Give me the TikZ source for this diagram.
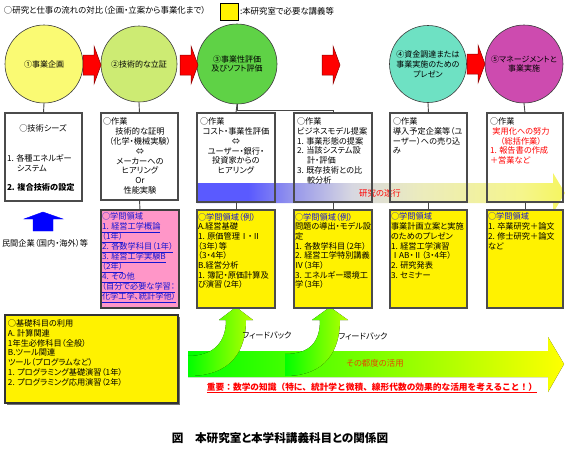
\documentclass[tikz,border=0pt]{standalone}
\usepackage{fontspec}
\setmainfont{Noto Sans CJK JP}[RawFeature=+palt,AutoFakeSlant=0.18]
\newfontfamily\widejp{Noto Sans CJK JP}[AutoFakeSlant=0.18]
\definecolor{circA}{RGB}{250,250,115}
\definecolor{circB}{RGB}{205,235,115}
\definecolor{circC}{RGB}{95,210,70}
\definecolor{circD}{RGB}{110,225,195}
\definecolor{circE}{RGB}{205,75,175}
\definecolor{circline}{RGB}{60,60,60}
\definecolor{boxline}{RGB}{75,75,75}
\definecolor{connline}{RGB}{70,70,70}
\definecolor{pinkfill}{RGB}{255,150,200}
\definecolor{tblue}{RGB}{20,20,210}
\definecolor{bb1}{RGB}{90,90,255}
\definecolor{bb2}{RGB}{150,150,235}
\definecolor{bb3}{RGB}{215,215,225}
\definecolor{bb4}{RGB}{235,235,190}
\definecolor{bb5}{RGB}{245,245,140}
\definecolor{bb6}{RGB}{245,245,95}
\definecolor{gband}{RGB}{0,255,0}
\definecolor{yband}{RGB}{255,255,0}
\definecolor{fbright}{RGB}{185,255,0}
\definecolor{orangered}{RGB}{230,70,0}
\pgfdeclarehorizontalshading{bandshade}{100bp}{color(0bp)=(bb1); color(25bp)=(bb1); color(32bp)=(bb1); color(38bp)=(bb2); color(46bp)=(bb3); color(55bp)=(bb4); color(69bp)=(bb5); color(75bp)=(bb6); color(100bp)=(bb6)}
\newcommand\fsn{\fontsize{8.2}{9.7}\selectfont}
\newcommand\fsp{\fontsize{8.2}{10}\selectfont}
\tikzset{
  lbl/.style={inner sep=0pt, outer sep=0pt, font=\fsn, align=left, anchor=north west},
  circ/.style={circle, draw=circline, line width=0.6pt, inner sep=0pt, align=center, font=\fontsize{8}{9.8}\selectfont},
  wbox/.style={draw=boxline, line width=1.1pt, inner sep=0pt, outer sep=0pt, anchor=north west},
  ybox/.style={wbox, fill=yellow, draw=black!70},
  conn/.style={draw=connline, line width=0.9pt},
  redarr/.pic={\draw[fill=red, draw=red!55!black, line width=0.5pt] (0,-10) -- (11,-10) -- (11,-19) -- (18,0) -- (11,19) -- (11,10) -- (0,10) -- cycle;},
  fbshade/.style={left color=gband, right color=fbright}
}
\begin{document}
\begin{tikzpicture}[x=1pt,y=-1pt]
\useasboundingbox (0,0) rectangle (566,450);
% title and legend
\node[lbl, font=\fontsize{8.4}{9.7}\selectfont] (title) at (4,6) {○研究と仕事の流れの対比（企画・立案から事業化まで）};
\node[draw=black, fill=yellow, line width=0.6pt, minimum width=18pt, minimum height=17pt, inner sep=0pt, anchor=north west] (legbox) at (220,3) {};
\node[lbl, font=\fontsize{8.4}{9.7}\selectfont] (legtxt) at (240,7.5) {:本研究室で必要な講義等};
% circles
\node[circ, fill=circA, minimum size=78pt] (c1) at (44,64) {①事業企画};
\node[circ, fill=circB, minimum size=76pt] (c2) at (139,64) {②技術的な立証};
\node[circ, fill=circC, minimum size=80pt] (c3) at (237,64) {③事業性評価\\及びソフト評価};
\node[circ, fill=circD, minimum size=77pt] (c4) at (428,64) {④資金調達または\\事業実施のための\\プレゼン};
\node[circ, fill=circE, minimum size=78pt] (c5) at (524,64) {⑤マネージメントと\\事業実施};
% red arrows
\pic at (83,65) {redarr};
\pic at (180,65) {redarr};
\pic at (322,65) {redarr};
\pic at (467,64) {redarr};
% research band
\shade[shading=bandshade] (197,183) -- (553,183) -- (553,173) -- (565,193) -- (553,213) -- (553,203) -- (197,203) -- cycle;
\node[inner sep=0pt, font=\fontsize{8.4}{9.7}\selectfont, text=red] (kenkyu) at (380,193) {研究の遂行};
% work boxes
\node[wbox, minimum width=77pt, minimum height=88pt] (b1) at (5,113) {};
\node[wbox, minimum width=77pt, minimum height=87pt] (b2) at (101,113) {};
\node[wbox, minimum width=78pt, minimum height=89pt] (b3) at (197,113) {};
\node[wbox, minimum width=78pt, minimum height=89pt] (b4) at (294,113) {};
\node[wbox, minimum width=77pt, minimum height=89pt] (b5) at (390,113) {};
\node[wbox, minimum width=76pt, minimum height=89pt] (b6) at (487,113) {};
% connectors circles -> boxes
\draw[conn] (c1.south) -- (b1.north);
\draw[conn] (c2.south) -- (b2.north);
\draw[conn] (c3.south) -- (b3.north);
\draw[conn] (c3.south) -- ++(0,6) -| (b4.north);
\draw[conn] (c4.south) -- (b5.north);
\draw[conn] (c5.south) -- (b6.north);
% box texts
\node[lbl, anchor=center] (b1a) at (43,128) {○技術シーズ};
\node[lbl] (b1b) at (7,155) {1. 各種エネルギー\\\hspace*{10pt}システム};
\node[lbl, anchor=west] (b1c) at (7,187) {\bfseries 2. 複合技術の設定};
\node[lbl] (b2a) at (103,118) {○作業};
\node[lbl, anchor=north, align=center] (b2b) at (140,128) {技術的な証明\\（化学・機械実験）\\⇔\\メーカーへの\\ヒアリング\\Or\\性能実験};
\node[lbl] (b3a) at (200,118) {○作業};
\node[lbl, anchor=north, align=center] (b3b) at (236,128) {コスト・事業性評価\\⇔\\ユーザー・銀行・\\投資家からの\\ヒアリング};
\node[lbl] (b4a) at (297,118) {○作業\\ビジネスモデル提案\\1. 事業形態の提案\\2. 当該システム設\\\hspace*{10pt}計・評価\\3. 既存技術との比\\\hspace*{10pt}較分析};
\node[lbl] (b5a) at (393,118) {○作業\\導入予定企業等（ユ\\ーザー）への売り込\\み};
\node[lbl] (b6a) at (490,118) {○作業};
\node[lbl, anchor=north, align=center, text=red] (b6b) at (521,128) {実用化への努力\\（総括作業）};
\node[lbl, text=red] (b6c) at (490,147) {1. 報告書の作成\\＋営業など};
% blue up arrow and text
\draw[fill=blue, draw=blue] (43,212) -- (63,219) -- (53,219) -- (53,231) -- (33,231) -- (33,219) -- (24,219) -- cycle;
\node[lbl, anchor=west] (minkan) at (2,243) {民間企業（国内・海外）等};
% green band and feedback arrows
\fill[left color=gband, right color=yband] (188,351) -- (548,351) -- (548,337) -- (564,364) -- (548,392) -- (548,377) -- (188,377) -- cycle;
\fill[fbshade] (188,376) .. controls (232,376) and (246,350) .. (246,320) -- (253,320) -- (236,307) -- (219,320) -- (226,320) .. controls (226,342) and (214,356) .. (188,356) -- cycle;
\fill[fbshade] (285,376) .. controls (326,376) and (340,350) .. (340,320) -- (348,320) -- (330,307) -- (312,320) -- (320,320) .. controls (320,342) and (310,354) .. (285,354) -- cycle;
\node[inner sep=0pt, font=\fsn] (fb1) at (267,335) {フィードバック};
\node[inner sep=0pt, font=\fsn] (fb2) at (363,336) {フィードバック};
\node[inner sep=0pt, font=\fontsize{8.4}{9.7}\selectfont, text=orangered] (tsudo) at (375,363) {その都度の活用};
% lower boxes
\node[wbox, fill=pinkfill, draw=black!75, minimum width=78pt, minimum height=98pt] (p2) at (101,210) {};
\node[ybox, minimum width=78pt, minimum height=98pt] (ya) at (197,210) {};
\node[ybox, minimum width=78pt, minimum height=98pt] (yb) at (294,210) {};
\node[ybox, minimum width=77pt, minimum height=98pt] (yc) at (390,210) {};
\node[ybox, minimum width=76pt, minimum height=98pt] (yd) at (487,210) {};
\draw[conn] (b2.south) -- (p2.north);
\draw[conn] (b3.south) -- (ya.north);
\draw[conn] (b4.south) -- (yb.north);
\draw[conn] (b5.south) -- (yc.north);
\draw[conn] (b6.south) -- (yd.north);
\node[lbl, font=\fsp, text=tblue] (p2t) at (102,213) {○学問領域\\\underline{1. 経営工学概論}\\\underline{（1年）}\\\underline{2. 各数学科目（1年）}\\\underline{3. 経営工学実験B}\\\underline{（2年）}\\\underline{4. その他\hspace{6pt}}\\\underline{（自分で必要な学習：}\\\underline{化学工学、統計学他）}};
\node[lbl] (yat) at (198,213) {\textcolor{tblue}{○学問領域（例）}\\A.経営基礎\\1. 原価管理Ⅰ・Ⅱ\\（3年）等\\（3・4年）\\B.経営分析\\1. 簿記・原価計算及\\び演習（2年）};
\node[lbl] (ybt) at (295,213) {\textcolor{tblue}{○学問領域（例）}\\問題の導出・モデル設\\定\\1. 各数学科目（2年）\\2. 経営工学特別講義\\Ⅳ（3年）\\3. エネルギー環境工\\学（3年）};
\node[lbl] (yct) at (391,213) {\textcolor{tblue}{○学問領域}\\事業計画立案と実施\\のためのプレゼン\\1. 経営工学演習\\ⅠAB・Ⅱ（3・4年）\\2. 研究発表\\3. セミナー};
\node[lbl] (ydt) at (488,213) {\textcolor{tblue}{○学問領域}\\1. 卒業研究＋論文\\2. 修士研究＋論文\\など};
% basic subjects box
\fill[black!55] (7,317) rectangle (180,405);
\node[wbox, fill=yellow, draw=black!80, minimum width=173pt, minimum height=88pt] (kiso) at (5,315) {};
\node[lbl] (kisot) at (8,320) {○基礎科目の利用\\A. 計算関連\\1年生必修科目（全般）\\B.ツール関連\\ツール（プログラムなど）\\1. プログラミング基礎演習（1年）\\2. プログラミング応用演習（2年）};
% important note and caption
\node[inner sep=0pt, font=\widejp\fontsize{8.7}{10}\selectfont\bfseries\itshape, text=red] (imp) at (372,388) {\underline{重要：数学の知識（特に、統計学と微積、線形代数の効果的な活用を考えること！）}};
\node[inner sep=0pt, font=\fontsize{11.6}{12}\selectfont\bfseries] (cap) at (280,438) {図\hspace{1em}本研究室と本学科講義科目との関係図};
\end{tikzpicture}
\end{document}
